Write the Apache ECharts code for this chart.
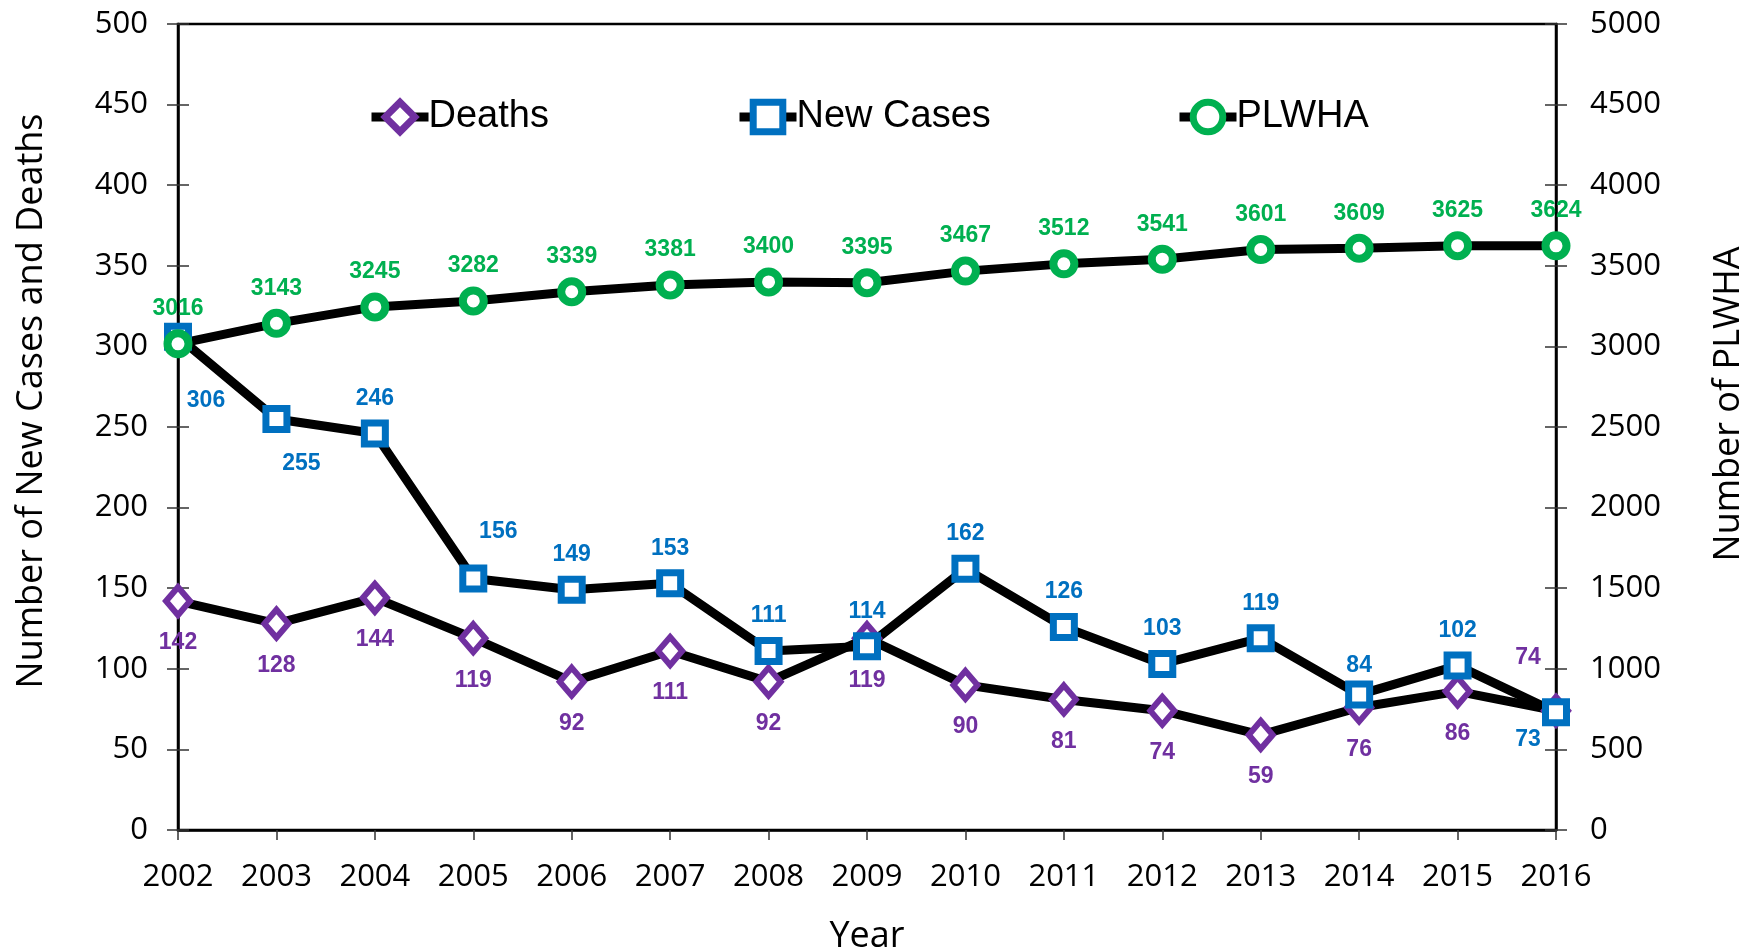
<!DOCTYPE html>
<html>
<head>
<meta charset="utf-8">
<script src="https://cdn.jsdelivr.net/npm/echarts@6/dist/echarts.min.js"></script>
<style>
html,body{margin:0;padding:0;background:#fff;overflow:hidden;}
#chart{position:absolute;left:0;top:0;width:1764px;height:952px;}
</style>
</head>
<body>
<div id="chart"></div>
<script>
const years = ['2002','2003','2004','2005','2006','2007','2008','2009','2010','2011','2012','2013','2014','2015','2016'];
const deaths = [142,128,144,119,92,111,92,119,90,81,74,59,76,86,74];
const newCases = [306,255,246,156,149,153,111,114,162,126,103,119,84,102,73];
const plwha = [3016,3143,3245,3282,3339,3381,3400,3395,3467,3512,3541,3601,3609,3625,3624];

const PURPLE = '#7030A0', BLUE = '#0070C0', GREEN = '#00B050';
const tickFont = "'Open Sans', sans-serif";
const labelFont = "'Liberation Sans', Arial, sans-serif";

// label offset overrides (styling only)
const deathsOffsets = {14: [-28, -53]};
const casesOffsets = {0: [28, 64], 1: [25, 45], 3: [25, -47], 12: [0, -29], 14: [-28, 27]};

function withOffsets(values, def, overrides) {
  return values.map((v, i) => ({
    value: v,
    label: { offset: overrides[i] || def }
  }));
}

const chart = echarts.init(document.getElementById('chart'));

const baseY = {
  type: 'value',
  axisLine: { show: true, lineStyle: { color: '#000', width: 2.5 } },
  splitLine: { show: false },
  axisTick: { show: true, length: 11, lineStyle: { color: '#333', width: 1.5 } },
  nameLocation: 'middle',
  axisLabel: { fontFamily: tickFont, fontSize: 31, color: '#000', formatter: (v) => String(v) }
};

const labelBase = (color) => ({
  show: true, position: 'inside', fontFamily: labelFont, fontWeight: 'bold', fontSize: 23, color: color
});

const legendBase = {
  top: 93, itemWidth: 57, itemHeight: 37, orient: 'horizontal',
  textStyle: { fontFamily: labelFont, fontSize: 38, color: '#000', padding: [0, 0, 0, -5] },
  lineStyle: { width: 9, color: '#000' },
  itemStyle: { borderWidth: 7 },
  selectedMode: false
};

chart.setOption({
  animation: false,
  backgroundColor: '#fff',
  grid: { left: 178, right: 208, top: 24, bottom: 122, outerBoundsMode: 'none', containLabel: false,
    show: true, borderColor: '#000', borderWidth: 2.5, backgroundColor: 'transparent' },
  legend: [
    Object.assign({}, legendBase, { left: 362, data: ['Deaths'] }),
    Object.assign({}, legendBase, { left: 730, data: ['New Cases'] }),
    Object.assign({}, legendBase, { left: 1170, data: ['PLWHA'] })
  ],
  xAxis: {
    type: 'category', data: years, boundaryGap: false,
    name: 'Year', nameLocation: 'middle', nameGap: 89,
    nameTextStyle: { fontFamily: tickFont, fontSize: 36, color: '#000' },
    axisLine: { lineStyle: { color: '#000', width: 2.5 } },
    axisTick: { show: true, alignWithLabel: true, length: 10, lineStyle: { color: '#333', width: 1.5 } },
    axisLabel: { fontFamily: tickFont, fontSize: 31, color: '#000', margin: 32, interval: 0 }
  },
  yAxis: [
    Object.assign({}, baseY, { position: 'left', min: 0, max: 500, interval: 50, name: 'Number of New Cases and Deaths', nameGap: 128,
      nameTextStyle: { fontFamily: tickFont, fontSize: 36, color: '#000', padding: [0, 0, 0, 52] },
      axisLabel: Object.assign({}, baseY.axisLabel, { margin: 30 }) }),
    Object.assign({}, baseY, { position: 'right', min: 0, max: 5000, interval: 500, name: 'Number of PLWHA', nameGap: 155, nameRotate: 90,
      nameTextStyle: { fontFamily: tickFont, fontSize: 36, color: '#000', padding: [0, 0, 0, 46] },
      axisLabel: Object.assign({}, baseY.axisLabel, { margin: 34 }) }),
    { type: 'value', position: 'left', min: 0, max: 500, interval: 50, axisLine: { show: false }, splitLine: { show: false }, axisLabel: { show: false }, axisTick: { show: true, inside: true, length: 11, lineStyle: { color: '#333', width: 1.5 } } },
    { type: 'value', position: 'right', min: 0, max: 5000, interval: 500, axisLine: { show: false }, splitLine: { show: false }, axisLabel: { show: false }, axisTick: { show: true, inside: true, length: 11, lineStyle: { color: '#333', width: 1.5 } } }
  ],
  series: [
    {
      name: 'Deaths', type: 'line', yAxisIndex: 0,
      data: withOffsets(deaths, [0, 42], deathsOffsets),
      symbol: 'diamond', symbolSize: [24, 28],
      lineStyle: { color: '#000', width: 9 },
      itemStyle: { color: '#fff', borderColor: PURPLE, borderWidth: 6 },
      label: labelBase(PURPLE)
    },
    {
      name: 'New Cases', type: 'line', yAxisIndex: 0,
      data: withOffsets(newCases, [0, -35], casesOffsets),
      symbol: 'rect', symbolSize: 21,
      lineStyle: { color: '#000', width: 9 },
      itemStyle: { color: '#fff', borderColor: BLUE, borderWidth: 7 },
      label: labelBase(BLUE)
    },
    {
      name: 'PLWHA', type: 'line', yAxisIndex: 1,
      data: withOffsets(plwha, [0, -35], {}),
      symbol: 'circle', symbolSize: 21,
      lineStyle: { color: '#000', width: 9 },
      itemStyle: { color: '#fff', borderColor: GREEN, borderWidth: 8 },
      label: labelBase(GREEN)
    }
  ]
});
</script>
</body>
</html>
